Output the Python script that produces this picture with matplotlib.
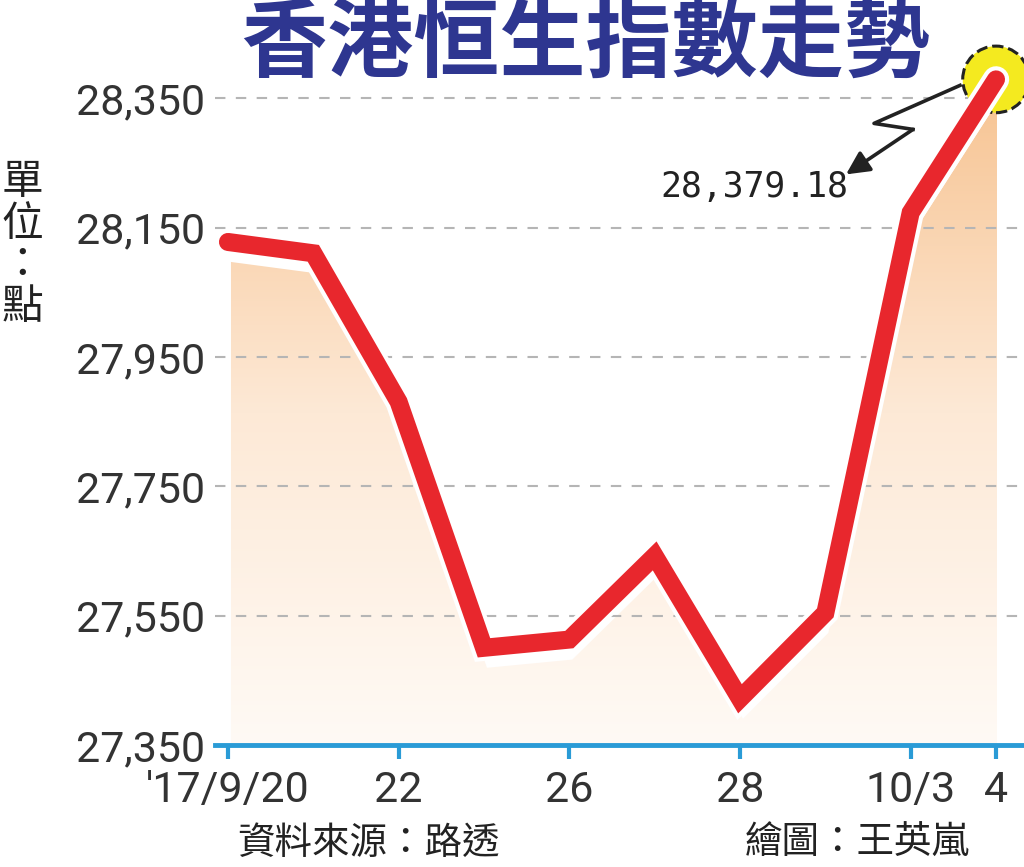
import numpy as np
import matplotlib
matplotlib.use('Agg')
import matplotlib.pyplot as plt
import matplotlib.patheffects as pe
import matplotlib.transforms as mtransforms
from matplotlib.colors import LinearSegmentedColormap
from matplotlib.lines import Line2D

# 香港恒生指數收盤點位
dates = ["'17/9/20", "21", "22", "25", "26", "27", "28", "29", "10/3", "4"]
closes = [28127.8, 28110.3, 27880.5, 27500.3, 27513.0, 27642.4, 27421.5, 27554.3, 28173.2, 28379.18]
tick_idx = [0, 2, 4, 6, 8, 9]
tick_labels = ["'17/9/20", "22", "26", "28", "10/3", "4"]
yticks = [27350, 27550, 27750, 27950, 28150, 28350]

cjk = ['Noto Sans CJK TC', 'DejaVu Sans']
num_font = ['Roboto', 'Liberation Sans', 'DejaVu Sans']

fig = plt.figure(figsize=(10.24, 8.67), dpi=100)
ax = fig.add_axes([215/1024, 122/867, 809/1024, 692/867])
x = np.arange(len(closes))
ax.set_xlim(-0.152, 9.328)
ax.set_ylim(27350, 28420)

# 漸層填色(向下偏移的陰影區)
shift = mtransforms.offset_copy(ax.transData, fig=fig, x=3, y=-20, units='dots')
poly = ax.fill_between(x, closes, 27000, transform=shift, facecolor='none', edgecolor='none')
cmap = LinearSegmentedColormap.from_list('fade', ['#fffaf5', '#fde9d6', '#f7c391'])
grad = np.linspace(0, 1, 256).reshape(-1, 1)
img = ax.imshow(grad, extent=[0, 9, 27350, closes[-1]], aspect='auto', origin='lower',
                cmap=cmap, zorder=1, interpolation='bilinear')
img.set_clip_path(poly.get_paths()[0], transform=shift)

# 格線
for yv in yticks[1:]:
    ax.axhline(yv, color='#b5b5b5', lw=1.5, ls=(0, (5, 5)), zorder=2)

# 折線
ax.plot(x, closes, color='#e8272d', lw=13, solid_joinstyle='miter', solid_capstyle='round',
        zorder=4, clip_on=False,
        path_effects=[pe.Stroke(linewidth=19, foreground='white'), pe.Normal()])

# 最新點的黃圈
ax.scatter([x[-1]], [closes[-1]], s=2300, facecolor='#f4ea1f', edgecolor='#222222',
           linewidths=2.2, linestyles='--', zorder=3, clip_on=False)

# 座標軸
for s in ['left', 'right', 'top']:
    ax.spines[s].set_visible(False)
ax.spines['bottom'].set_color('#2a9bd6')
ax.spines['bottom'].set_linewidth(3.5)
ax.set_xticks(tick_idx)
ax.set_xticklabels(tick_labels)
ax.set_yticks(yticks)
ax.set_yticklabels([f'{v:,}' for v in yticks])
ax.tick_params(axis='x', direction='out', length=10, width=3, color='#2a9bd6', pad=8,
               labelsize=31, labelcolor='#333333')
ax.tick_params(axis='y', length=0, pad=7, labelsize=31, labelcolor='#333333')
for lab in ax.get_xticklabels() + ax.get_yticklabels():
    lab.set_family(num_font)

# 標題與文字
fig.text(586/1024, 1 - 44/867, '香港恒生指數走勢', family=cjk, fontsize=62, fontweight='bold',
         color='#2e3690', ha='center', va='center')
fig.text(22/1024, 1 - 245/867, '單\n位\n：\n點', family=cjk, fontsize=30, color='#222222',
         ha='center', va='center', linespacing=1.02)
fig.text(237/1024, 1 - 843/867, '資料來源：路透', family=cjk, fontsize=27, color='#222222',
         ha='left', va='center')
fig.text(745/1024, 1 - 843/867, '繪圖：王英嵐', family=cjk, fontsize=27, color='#222222',
         ha='left', va='center')

# 標註數值與閃電箭頭
fig.canvas.draw()
px, py = ax.transData.transform((x[-1], closes[-1]))
fig.text((px - 148) / 1024, (py - 108) / 867, f'{closes[-1]:,.2f}', family=['DejaVu Sans Mono'],
         fontsize=25, color='#222222', ha='right', va='center')
zx = [px - 36, px - 122, px - 83]
zy = [py - 6, py - 44, py - 50]
fig.add_artist(Line2D(zx, zy, color='#222222', lw=2.6, transform=None))
ax.annotate('', xy=(px - 150, py - 95), xycoords='figure pixels',
            xytext=(zx[-1], zy[-1]), textcoords='figure pixels',
            arrowprops=dict(arrowstyle='-|>,head_length=1.4,head_width=0.7', color='#222222',
                            lw=2.6, shrinkA=0, shrinkB=0))

fig.savefig('out.png', dpi=100)
